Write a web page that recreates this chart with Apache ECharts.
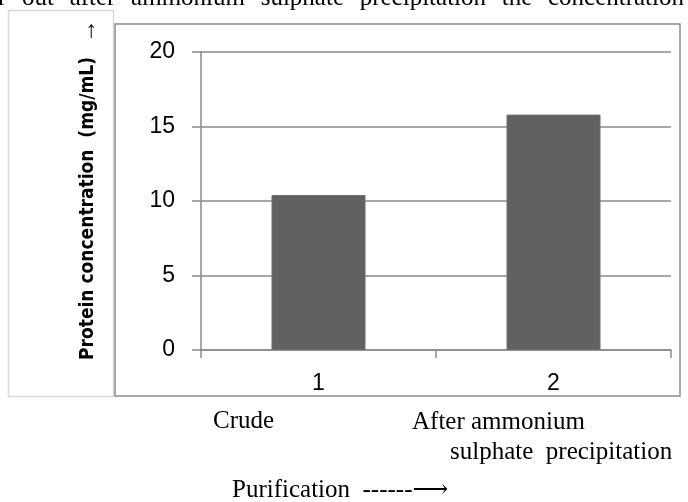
<!DOCTYPE html>
<html>
<head>
<meta charset="utf-8">
<script src="https://cdn.jsdelivr.net/npm/echarts@6/dist/echarts.min.js"></script>
<style>
  html, body { margin: 0; padding: 0; background: #ffffff; }
  #chart { width: 688px; height: 502px; }
</style>
</head>
<body>
<div id="chart"></div>
<script>
var categories = ['1', '2'];
var concentration = [10.4, 15.8];
var stageLabels = ['Crude', 'After ammonium', 'sulphate  precipitation'];
var yTitle = 'Protein concentration  (mg/mL)';
var yTitleArrow = '\u2192';
var xTitle = 'Purification  ------\u27F6';
var topWords = ['r', 'out', 'after', 'ammonium', 'sulphate', 'precipitation', 'the', 'concentration'];

var serif = "'Liberation Serif', 'Times New Roman', 'DejaVu Serif', serif";
var sans = "'Liberation Sans', Arial, sans-serif";
var titleFont = "bold 19px 'DejaVu Sans Condensed', 'Liberation Sans', sans-serif";
var arrowFont = "bold 24px 'Liberation Sans', 'DejaVu Sans', sans-serif";
var serifFont = '25px ' + serif;
var axisGray = '#8a8a8a';

var chart = echarts.init(document.getElementById('chart'), null, { renderer: 'canvas' });

var graphics = [
  { type: 'rect', shape: { x: 8.5, y: 10.5, width: 105, height: 386 }, style: { fill: '#fff', stroke: '#d9d9d9', lineWidth: 1.5 }, z: -10 },
  { type: 'rect', shape: { x: 115, y: 24, width: 565, height: 372 }, style: { fill: '#fff', stroke: '#8c8c8c', lineWidth: 1.5 }, z: -9 },
  { type: 'text', x: 88, y: 360, rotation: Math.PI / 2,
    style: { text: yTitle, font: titleFont, fill: '#000', textAlign: 'left', textVerticalAlign: 'middle' } },
  { type: 'text', x: 88, y: 31, rotation: Math.PI / 2,
    style: { text: yTitleArrow, font: arrowFont, fill: '#000', textAlign: 'center', textVerticalAlign: 'middle' } },
  { type: 'text', x: 213, y: 421, style: { text: stageLabels[0], font: serifFont, fill: '#000', textAlign: 'left', textVerticalAlign: 'middle' } },
  { type: 'text', x: 412, y: 422, style: { text: stageLabels[1], font: serifFont, fill: '#000', textAlign: 'left', textVerticalAlign: 'middle' } },
  { type: 'text', x: 450, y: 452, style: { text: stageLabels[2], font: serifFont, fill: '#000', textAlign: 'left', textVerticalAlign: 'middle' } },
  { type: 'text', x: 232, y: 490, style: { text: xTitle, font: serifFont, fill: '#000', textAlign: 'left', textVerticalAlign: 'middle' } }
];

// justify the cut-off running text line across the page width
(function () {
  var ctx = document.createElement('canvas').getContext('2d');
  ctx.font = serifFont;
  var widths = topWords.map(function (w) { return ctx.measureText(w).width; });
  var total = widths.reduce(function (a, b) { return a + b; }, 0);
  var left = -2, right = 684;
  var gap = (right - left - total) / (topWords.length - 1);
  var x = left;
  topWords.forEach(function (w, i) {
    graphics.push({ type: 'text', x: x, y: -2, style: { text: w, font: serifFont, fill: '#000', textAlign: 'left', textVerticalAlign: 'middle' } });
    x += widths[i] + gap;
  });
})();

chart.setOption({
  animation: false,
  backgroundColor: '#ffffff',
  grid: { left: 201, right: 17, top: 52, bottom: 152, containLabel: false },
  xAxis: {
    type: 'category',
    data: categories,
    boundaryGap: true,
    axisLine: { show: true, lineStyle: { color: axisGray, width: 1.5 } },
    axisTick: { show: true, alignWithLabel: false, length: 8, lineStyle: { color: axisGray, width: 1.5 } },
    axisLabel: { margin: 22, fontSize: 23, fontFamily: sans, color: '#000' },
    splitLine: { show: false }
  },
  yAxis: {
    type: 'value',
    min: 0, max: 20, interval: 5,
    axisLine: { show: true, lineStyle: { color: axisGray, width: 1.5 } },
    axisTick: { show: true, length: 9, lineStyle: { color: axisGray, width: 1.5 } },
    axisLabel: { margin: 26, fontSize: 23, fontFamily: sans, color: '#000' },
    splitLine: { show: true, lineStyle: { color: axisGray, width: 1.5 } }
  },
  series: [{
    type: 'bar',
    data: concentration,
    barWidth: '40%',
    itemStyle: { color: '#616161', borderColor: '#6e6e6e', borderWidth: 1 }
  }],
  graphic: graphics
});
</script>
</body>
</html>
